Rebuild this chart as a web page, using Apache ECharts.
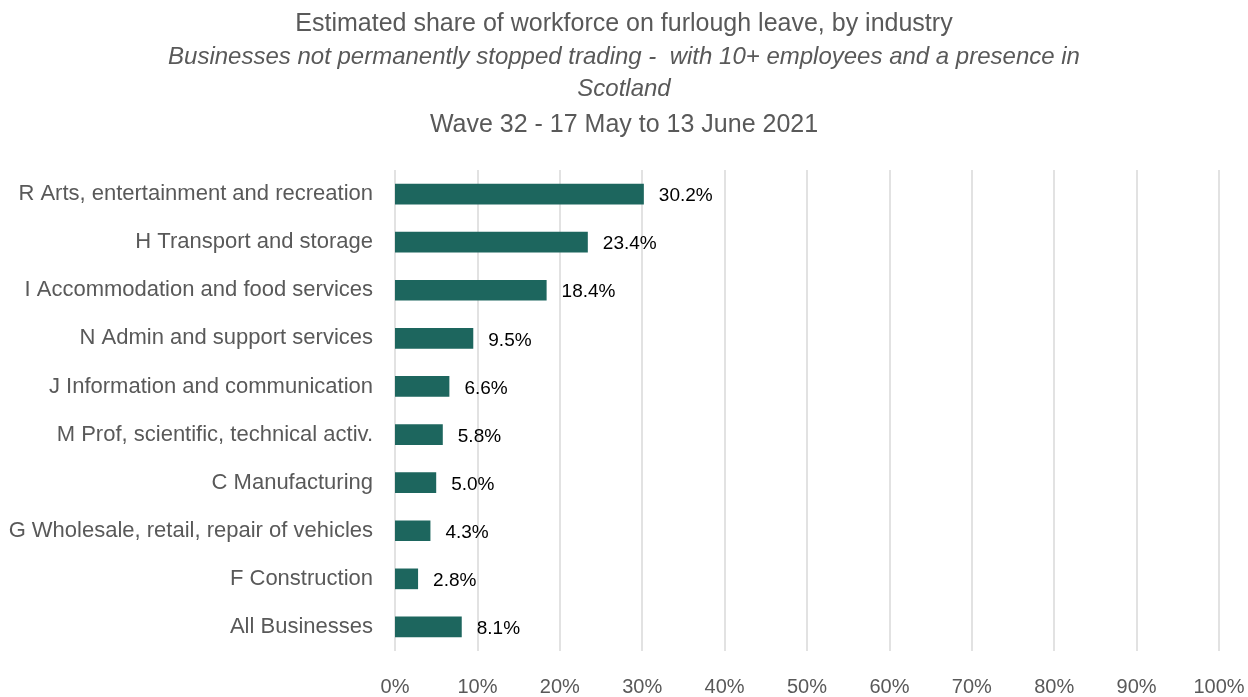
<!DOCTYPE html>
<html><head><meta charset="utf-8">
<script src="https://cdn.jsdelivr.net/npm/echarts@6/dist/echarts.min.js"></script>
<style>html,body{margin:0;padding:0;background:#fff}#c{width:1248px;height:697px}</style>
</head><body><div id="c"></div>
<script>
const categories = [
  "R Arts, entertainment and recreation",
  "H Transport and storage",
  "I Accommodation and food services",
  "N Admin and support services",
  "J Information and communication",
  "M Prof, scientific, technical activ.",
  "C Manufacturing",
  "G Wholesale, retail, repair of vehicles",
  "F Construction",
  "All Businesses"
];
const values = [30.2, 23.4, 18.4, 9.5, 6.6, 5.8, 5.0, 4.3, 2.8, 8.1];
const tickLabels = ["0%","10%","20%","30%","40%","50%","60%","70%","80%","90%","100%"];

const chart = echarts.init(document.getElementById('c'));
const ff = '"Liberation Sans", Arial, sans-serif';
const tcol = '#595959';
chart.setOption({
  animation: false,
  title: [
    {text: 'Estimated share of workforce on furlough leave, by industry', left: 'center', top: 7,
     textStyle: {fontFamily: ff, fontSize: 25, fontWeight: 'normal', color: tcol}},
    {text: 'Businesses not permanently stopped trading -  with 10+ employees and a presence in', left: 'center', top: 40,
     textStyle: {fontFamily: ff, fontSize: 24, fontWeight: 'normal', fontStyle: 'italic', color: tcol}},
    {text: 'Scotland', left: 'center', top: 72,
     textStyle: {fontFamily: ff, fontSize: 24, fontWeight: 'normal', fontStyle: 'italic', color: tcol}},
    {text: 'Wave 32 - 17 May to 13 June 2021', left: 'center', top: 108,
     textStyle: {fontFamily: ff, fontSize: 25, fontWeight: 'normal', color: tcol}}
  ],
  grid: {left: 395, right: 29, top: 170, bottom: 43, containLabel: false},
  xAxis: {
    type: 'value', min: 0, max: 100, interval: 10,
    axisLine: {show: false}, axisTick: {show: false},
    splitLine: {show: true, lineStyle: {color: '#d9d9d9', width: 1.5}},
    axisLabel: {margin: 26, fontFamily: ff, fontSize: 20, color: tcol,
      formatter: v => tickLabels[Math.round(v / 10)]}
  },
  yAxis: {
    type: 'category', data: categories, inverse: true,
    axisLine: {show: false}, axisTick: {show: false},
    axisLabel: {margin: 22, fontFamily: ff, fontSize: 22, color: tcol}
  },
  series: [{
    type: 'bar', data: values, barWidth: '43%',
    itemStyle: {color: '#1d665e'},
    label: {show: true, position: 'right', distance: 15, offset: [0, 2], fontFamily: ff, fontSize: 19, color: '#000',
      formatter: p => p.value.toFixed(1) + '%'}
  }]
});
</script></body></html>
